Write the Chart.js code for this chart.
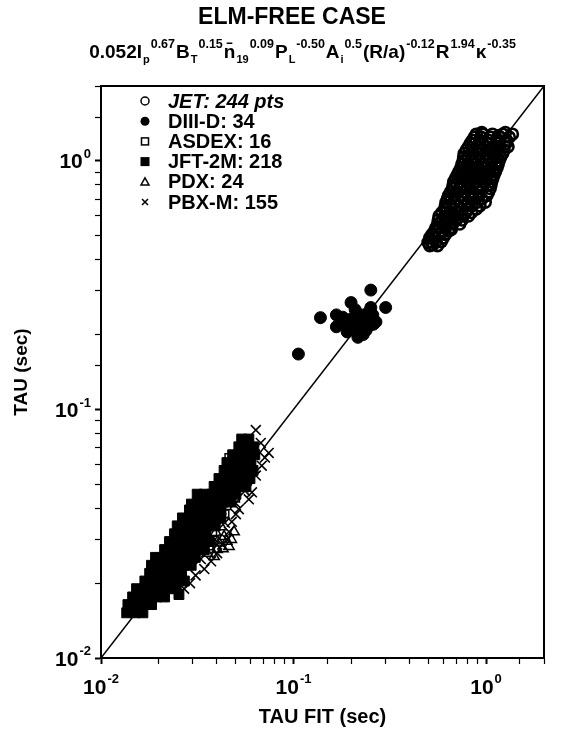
<!DOCTYPE html>
<html>
<head>
<meta charset="utf-8">
<title>ELM-FREE CASE</title>
<script src="https://cdn.jsdelivr.net/npm/chart.js@4.4.1/dist/chart.umd.min.js"></script>
<style>
  html, body { margin: 0; padding: 0; background: #fff; }
  #wrap { width: 566px; height: 731px; position: relative; }
</style>
</head>
<body>
<div id="wrap"><canvas id="tauChart"></canvas></div>
<script>
// Confinement time vs. scaling-law fit, one [tauFit, tau] pair per shot (seconds)
const machines = ['JET: 244 pts', 'DIII-D: 34', 'ASDEX: 16', 'JFT-2M: 218', 'PDX: 24', 'PBX-M: 155'];

const jetPts = [
  [0.51,0.456],[0.56,0.456],[0.50,0.47],[0.53,0.46],
  [0.52,0.473],[0.55,0.473],[0.585,0.473],
  [0.51,0.49],[0.54,0.49],[0.60,0.49],
  [0.525,0.506],[0.565,0.506],[0.615,0.506],
  [0.54,0.522],[0.59,0.522],[0.64,0.522],[0.66,0.53],
  [0.55,0.539],[0.575,0.539],[0.615,0.539],[0.66,0.539],
  [0.56,0.557],[0.61,0.557],[0.67,0.557],[0.73,0.557],[0.71,0.59],
  [0.565,0.578],[0.59,0.578],[0.64,0.578],[0.70,0.578],[0.75,0.578],
  [0.57,0.60],[0.63,0.60],[0.69,0.60],[0.76,0.60],[0.81,0.60],
  [0.59,0.62],[0.615,0.62],[0.66,0.62],[0.72,0.62],[0.785,0.62],[0.84,0.62],
  [0.61,0.64],[0.66,0.64],[0.73,0.64],[0.80,0.64],[0.89,0.64],
  [0.615,0.66],[0.645,0.66],[0.70,0.66],[0.77,0.66],[0.845,0.66],[0.93,0.66],
  [0.62,0.681],[0.68,0.681],[0.74,0.681],[0.81,0.681],[0.90,0.681],[0.99,0.681],
  [0.63,0.703],[0.66,0.703],[0.715,0.703],[0.78,0.703],[0.86,0.703],[0.95,0.703],
  [0.64,0.726],[0.69,0.726],[0.76,0.726],[0.84,0.726],[0.92,0.726],[1.01,0.726],
  [0.655,0.75],[0.70,0.75],[0.765,0.75],[0.84,0.75],[0.925,0.75],[1.03,0.75],
  [0.67,0.774],[0.73,0.774],[0.80,0.774],[0.89,0.774],[0.96,0.774],[1.05,0.774],
  [0.675,0.80],[0.705,0.80],[0.77,0.80],[0.85,0.80],[0.93,0.80],[1.02,0.80],[1.06,0.80],
  [0.68,0.826],[0.74,0.826],[0.81,0.826],[0.90,0.826],[0.99,0.826],[1.07,0.826],
  [0.695,0.852],[0.74,0.852],[0.81,0.852],[0.89,0.852],[0.97,0.852],[1.05,0.852],[1.085,0.852],
  [0.71,0.879],[0.77,0.879],[0.85,0.879],[0.93,0.879],[1.02,0.879],[1.10,0.879],
  [0.725,0.907],[0.77,0.907],[0.845,0.907],[0.925,0.907],[1.01,0.907],[1.10,0.907],[1.12,0.907],
  [0.74,0.937],[0.80,0.937],[0.89,0.937],[0.96,0.937],[1.06,0.937],[1.14,0.937],
  [0.75,0.968],[0.80,0.968],[0.87,0.968],[0.95,0.968],[1.03,0.968],[1.12,0.968],[1.155,0.968],
  [0.76,1.00],[0.83,1.00],[0.91,1.00],[0.99,1.00],[1.08,1.00],[1.17,1.00],
  [0.765,1.035],[0.81,1.035],[0.89,1.035],[0.97,1.035],[1.05,1.035],[1.14,1.035],[1.19,1.035],
  [0.77,1.07],[0.85,1.07],[0.93,1.07],[1.02,1.07],[1.12,1.07],[1.22,1.07],
  [0.79,1.105],[0.85,1.105],[0.94,1.105],[1.03,1.105],[1.13,1.105],[1.24,1.105],
  [0.81,1.14],[0.90,1.14],[0.99,1.14],[1.08,1.14],[1.18,1.14],[1.30,1.14],
  [0.83,1.175],[0.875,1.175],[0.96,1.175],[1.05,1.175],[1.16,1.175],[1.27,1.175],
  [0.85,1.21],[0.93,1.21],[1.03,1.21],[1.14,1.21],[1.28,1.21],
  [0.87,1.245],[0.94,1.245],[1.05,1.245],[1.18,1.245],[1.32,1.245],
  [0.89,1.28],[0.96,1.28],[1.08,1.28],[1.22,1.28],[1.37,1.28],
  [1.26,1.30],[1.16,1.26],[0.95,1.30]
];

const diiidPts = [
  [0.106,0.167],[0.138,0.234],[0.167,0.240],[0.167,0.215],[0.185,0.223],
  [0.199,0.269],[0.209,0.252],[0.197,0.230],[0.216,0.209],[0.230,0.200],
  [0.216,0.195],[0.244,0.215],[0.235,0.234],[0.252,0.257],[0.252,0.302],
  [0.268,0.225],[0.301,0.257],[0.258,0.240],[0.224,0.240],[0.190,0.205],
  [0.205,0.215],[0.222,0.222],[0.238,0.208],[0.245,0.246],[0.180,0.235],
  [0.260,0.220]
];

const asdexPts = [
  [0.0462,0.0640],[0.0300,0.0280],[0.0350,0.0330],[0.0400,0.0360],
  [0.0280,0.0300],[0.0450,0.0410],[0.0330,0.0360],[0.0380,0.0320],
  [0.0420,0.0450],[0.0260,0.0250],[0.0360,0.0400],[0.0480,0.0460],
  [0.0310,0.0330],[0.0440,0.0380],[0.0500,0.0440],[0.0240,0.0230]
];

const jft2mPts = [
  [0.0136,0.0152],[0.0150,0.0152],[0.0165,0.0152],
  [0.0138,0.0164],[0.0151,0.0164],[0.0167,0.0164],[0.0183,0.0164],
  [0.0146,0.0176],[0.0161,0.0176],[0.0177,0.0176],[0.0194,0.0176],[0.0214,0.0176],
  [0.0153,0.0190],[0.0169,0.0190],[0.0185,0.0190],[0.0204,0.0190],[0.0224,0.0190],[0.0246,0.0190],
  [0.0169,0.0204],[0.0185,0.0204],[0.0204,0.0204],[0.0224,0.0204],[0.0246,0.0204],[0.0271,0.0204],
  [0.0179,0.0219],[0.0197,0.0219],[0.0216,0.0219],[0.0238,0.0219],[0.0262,0.0219],
  [0.0183,0.0236],[0.0201,0.0236],[0.0221,0.0236],[0.0243,0.0236],[0.0268,0.0236],[0.0294,0.0236],
  [0.0192,0.0254],[0.0211,0.0254],[0.0232,0.0254],[0.0255,0.0254],[0.0281,0.0254],[0.0309,0.0254],
  [0.0214,0.0273],[0.0235,0.0273],[0.0259,0.0273],[0.0284,0.0273],[0.0312,0.0273],[0.0344,0.0273],
  [0.0227,0.0294],[0.0249,0.0294],[0.0274,0.0294],[0.0301,0.0294],[0.0331,0.0294],[0.0365,0.0294],
  [0.0241,0.0316],[0.0265,0.0316],[0.0291,0.0316],[0.0319,0.0316],[0.0351,0.0316],
  [0.0249,0.0340],[0.0274,0.0340],[0.0301,0.0340],[0.0331,0.0340],[0.0365,0.0340],[0.0392,0.0340],
  [0.0265,0.0366],[0.0291,0.0366],[0.0319,0.0366],[0.0351,0.0366],[0.0387,0.0366],[0.0420,0.0366],
  [0.0288,0.0394],[0.0316,0.0394],[0.0347,0.0394],[0.0381,0.0394],[0.0420,0.0394],
  [0.0324,0.0424],[0.0356,0.0424],[0.0392,0.0424],[0.0431,0.0424],[0.0474,0.0424],
  [0.0344,0.0456],[0.0378,0.0456],[0.0415,0.0456],[0.0457,0.0456],[0.0502,0.0456],
  [0.0387,0.0490],[0.0425,0.0490],[0.0468,0.0490],[0.0514,0.0490],[0.0566,0.0490],
  [0.0410,0.0527],[0.0451,0.0527],[0.0496,0.0527],[0.0545,0.0527],[0.0594,0.0527],
  [0.0436,0.0568],[0.0479,0.0568],[0.0526,0.0568],[0.0579,0.0568],[0.0616,0.0568],
  [0.0451,0.0611],[0.0496,0.0611],[0.0545,0.0611],[0.0601,0.0611],
  [0.0483,0.0657],[0.0531,0.0657],[0.0586,0.0657],[0.0629,0.0657],
  [0.0520,0.0707],[0.0570,0.0707],[0.0622,0.0707],
  [0.0538,0.0760],[0.0586,0.0760],
  [0.0316,0.0456],[0.0295,0.0416],[0.0254,0.0180]
];

const pdxPts = [
  [0.0436,0.0308],[0.0462,0.0281],[0.0401,0.0273],[0.0373,0.0294],
  [0.0421,0.0337],[0.0491,0.0322],[0.0387,0.0256],[0.0356,0.0264],
  [0.0450,0.0295],[0.0410,0.0290],[0.0475,0.0300],[0.0395,0.0320],
  [0.0430,0.0275],[0.0365,0.0280]
];

const pbxmPts = [
  [0.0743,0.0668],[0.0684,0.0594],[0.0637,0.0542],[0.0586,0.0435],
  [0.0520,0.0397],[0.0478,0.0353],[0.0462,0.0322],[0.0426,0.0286],
  [0.0637,0.0826],[0.0676,0.0733],[0.0552,0.0486],[0.0502,0.0379],
  [0.0452,0.0299],[0.0401,0.0264],[0.0373,0.0245],[0.0344,0.0228],
  [0.0573,0.0518],[0.0710,0.0640],[0.0608,0.0464],[0.0310,0.0215],
  [0.0290,0.0200],[0.0270,0.0190],[0.0330,0.0250],[0.0390,0.0300],
  [0.0440,0.0350],[0.0500,0.0420],[0.0560,0.0470]
];

// axis range and labelled decades
const axisMin = 0.01;
const axisMax = 2;
const decades = [0.01, 0.1, 1];
const decadeExp = ['-2', '-1', '0'];

// fitted scaling law printed under the title: [text, 'n' | 'sub' | 'sup']
const formulaParts = [
  ['0.052I', 'n'], ['p', 'sub'], ['0.67', 'sup'],
  ['B', 'n'], ['T', 'sub'], ['0.15', 'sup'],
  ['n\u0304', 'n'], ['19', 'sub'], ['0.09', 'sup'],
  ['P', 'n'], ['L', 'sub'], ['-0.50', 'sup'],
  ['A', 'n'], ['i', 'sub'], ['0.5', 'sup'],
  ['(R/a)', 'n'], ['-0.12', 'sup'],
  ['R', 'n'], ['1.94', 'sup'],
  ['\u03BA', 'n'], ['-0.35', 'sup']
];

const FONT = '"Liberation Sans", Arial, Helvetica, sans-serif';
const toXY = pts => pts.map(p => ({ x: p[0], y: p[1] }));
const isDecade = v => v != null && Math.abs(Math.log10(v) - Math.round(Math.log10(v))) < 1e-6;

const markerStyles = [
  { pointStyle: 'circle', radius: 5.5, fill: false, width: 2.6 },
  { pointStyle: 'circle', radius: 6, fill: true, width: 1 },
  { pointStyle: 'rect', radius: 5.5, fill: false, width: 1.5 },
  { pointStyle: 'rect', radius: 7, fill: true, width: 1 },
  { pointStyle: 'triangle', radius: 6, fill: false, width: 1.5 },
  { pointStyle: 'crossRot', radius: 7, fill: false, width: 1.6 }
];
const seriesData = [jetPts, diiidPts, asdexPts, jft2mPts, pdxPts, pbxmPts];

function pointDataset(i) {
  const m = markerStyles[i];
  return {
    label: machines[i],
    data: toXY(seriesData[i]),
    pointStyle: m.pointStyle,
    pointRadius: m.radius,
    pointBorderWidth: m.width,
    borderColor: '#000',
    pointBorderColor: '#000',
    pointBackgroundColor: m.fill ? '#000' : 'rgba(0,0,0,0)',
    showLine: false
  };
}

// draws "10" with a raised exponent
function drawPower(ctx, exp, x, y, align, size) {
  const supSize = Math.round(size * 0.62);
  ctx.font = `bold ${size}px ${FONT}`;
  const bw = ctx.measureText('10').width;
  ctx.font = `bold ${supSize}px ${FONT}`;
  const ew = ctx.measureText(exp).width;
  const total = bw + ew + 1;
  let left = x;
  if (align === 'center') left = x - total / 2;
  if (align === 'right') left = x - total;
  ctx.textAlign = 'left';
  ctx.textBaseline = 'alphabetic';
  ctx.font = `bold ${size}px ${FONT}`;
  ctx.fillText('10', left, y + size * 0.36);
  ctx.font = `bold ${supSize}px ${FONT}`;
  ctx.fillText(exp, left + bw + 1, y - size * 0.12);
}

function drawMarker(ctx, style, x, y, r) {
  ctx.save();
  ctx.strokeStyle = '#000';
  ctx.fillStyle = '#000';
  ctx.lineWidth = 1.5;
  ctx.beginPath();
  if (style === 'openCircle') {
    ctx.arc(x, y, r, 0, Math.PI * 2); ctx.stroke();
  } else if (style === 'dot') {
    ctx.arc(x, y, r, 0, Math.PI * 2); ctx.fill();
  } else if (style === 'openSquare') {
    ctx.strokeRect(x - r, y - r, 2 * r, 2 * r);
  } else if (style === 'square') {
    ctx.fillRect(x - r, y - r, 2 * r, 2 * r);
  } else if (style === 'triangle') {
    ctx.moveTo(x, y - r); ctx.lineTo(x + r, y + r * 0.8); ctx.lineTo(x - r, y + r * 0.8); ctx.closePath(); ctx.stroke();
  } else {
    ctx.moveTo(x - r, y - r); ctx.lineTo(x + r, y + r);
    ctx.moveTo(x - r, y + r); ctx.lineTo(x + r, y - r); ctx.stroke();
  }
  ctx.restore();
}

const legendMarkers = [['openCircle', 4], ['dot', 4.5], ['openSquare', 3.5], ['square', 4.5], ['triangle', 4], ['cross', 3]];

const decorations = {
  id: 'decorations',
  afterDraw(chart) {
    const { ctx, chartArea: a, scales } = chart;
    ctx.save();
    ctx.fillStyle = '#000';
    ctx.strokeStyle = '#000';

    // frame
    ctx.lineWidth = 2;
    ctx.strokeRect(a.left, a.top, a.right - a.left, a.bottom - a.top);

    // title
    ctx.textAlign = 'center';
    ctx.textBaseline = 'middle';
    ctx.font = `bold 23px ${FONT}`;
    ctx.fillText('ELM-FREE CASE', 292, 18);

    // scaling law
    const sizes = { n: 19, sub: 11, sup: 12.5 };
    const shift = { n: 0, sub: 5, sup: -10 };
    let total = 0;
    formulaParts.forEach(([t, k]) => {
      ctx.font = `bold ${sizes[k]}px ${FONT}`;
      total += ctx.measureText(t).width + 1;
    });
    let fx = 303 - total / 2;
    ctx.textAlign = 'left';
    ctx.textBaseline = 'alphabetic';
    formulaParts.forEach(([t, k]) => {
      ctx.font = `bold ${sizes[k]}px ${FONT}`;
      ctx.fillText(t, fx, 58 + shift[k]);
      fx += ctx.measureText(t).width + 1;
    });

    // decade labels
    decades.forEach((v, i) => {
      drawPower(ctx, decadeExp[i], scales.x.getPixelForValue(v), a.bottom + 28, 'center', 21);
      drawPower(ctx, decadeExp[i], a.left - 10, scales.y.getPixelForValue(v), 'right', 21);
    });

    // axis titles
    ctx.textAlign = 'center';
    ctx.textBaseline = 'middle';
    ctx.font = `bold 20px ${FONT}`;
    ctx.fillText('TAU FIT (sec)', (a.left + a.right) / 2, 717);
    ctx.save();
    ctx.translate(22, (a.top + a.bottom) / 2);
    ctx.rotate(-Math.PI / 2);
    ctx.font = `bold 19px ${FONT}`;
    ctx.fillText('TAU (sec)', 0, 0);
    ctx.restore();

    // legend inside the plot
    ctx.textAlign = 'left';
    ctx.textBaseline = 'middle';
    machines.forEach((name, i) => {
      const y = a.top + 15 + i * 20.2;
      drawMarker(ctx, legendMarkers[i][0], a.left + 44, y, legendMarkers[i][1]);
      ctx.font = (i === 0 ? 'italic ' : '') + `bold 20px ${FONT}`;
      ctx.fillText(name, a.left + 67, y + 1);
    });
    ctx.restore();
  }
};

const axisOpts = (position) => ({
  type: 'logarithmic',
  position,
  min: axisMin,
  max: axisMax,
  border: { display: true, color: '#000', width: 2 },
  grid: {
    drawOnChartArea: false,
    drawTicks: true,
    tickLength: 6,
    tickColor: '#000',
    tickWidth: c => (c.tick && isDecade(c.tick.value) ? 2 : 1.2)
  },
  ticks: { display: false }
});

new Chart(document.getElementById('tauChart'), {
  type: 'scatter',
  data: {
    datasets: [
      {
        label: 'tau = fit',
        data: [{ x: axisMin, y: axisMin }, { x: axisMax, y: axisMax }],
        showLine: true,
        borderColor: '#000',
        borderWidth: 1.5,
        pointRadius: 0
      },
      ...machines.map((_, i) => pointDataset(i))
    ]
  },
  options: {
    responsive: true,
    maintainAspectRatio: false,
    animation: false,
    events: [],
    layout: { padding: { left: 95, right: 22, top: 86, bottom: 67 } },
    plugins: {
      legend: { display: false },
      tooltip: { enabled: false },
      title: { display: false }
    },
    scales: {
      x: axisOpts('bottom'),
      y: axisOpts('left')
    }
  },
  plugins: [decorations]
});
</script>
</body>
</html>
